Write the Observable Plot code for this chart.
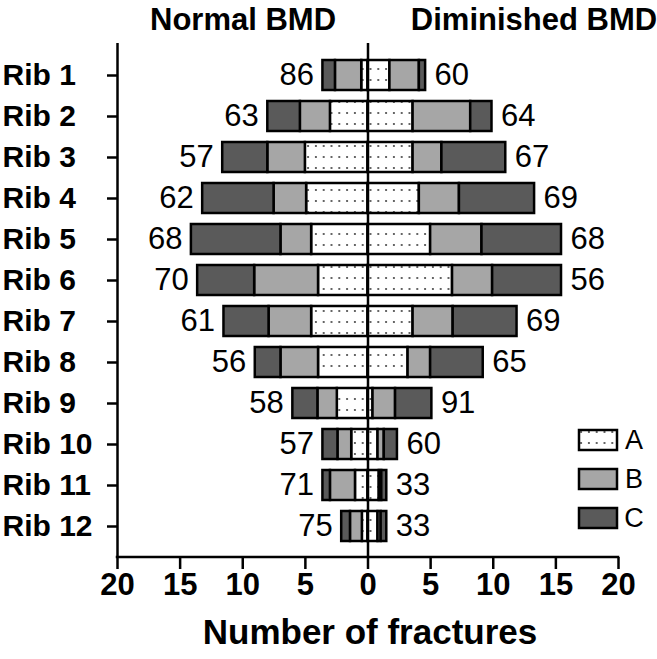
<!DOCTYPE html>
<html><head><meta charset="utf-8">
<script src="https://cdn.jsdelivr.net/npm/d3@7"></script>
<script src="https://cdn.jsdelivr.net/npm/@observablehq/plot@0.6"></script>
<style>body{margin:0;background:#fff} svg{display:block}</style>
</head><body>
<script>
const ribs = ["Rib 1","Rib 2","Rib 3","Rib 4","Rib 5","Rib 6","Rib 7","Rib 8","Rib 9","Rib 10","Rib 11","Rib 12"];
const cats = ["A","B","C"];
const normalA = [0.5, 3.0, 5.0, 4.9, 4.5, 3.95, 4.5, 3.95, 2.45, 1.3, 1.0, 0.45];
const normalB = [2.1, 2.4, 3.0, 2.6, 2.45, 5.1, 3.4, 3.0, 1.55, 1.1, 2.0, 0.95];
const normalC = [1.0, 2.6, 3.6, 5.7, 7.15, 4.55, 3.6, 2.05, 2.0, 1.2, 0.6, 0.7];
const dimA = [1.75, 3.6, 3.6, 4.1, 5.0, 6.75, 3.6, 3.2, 0.4, 0.8, 0.9, 0.8];
const dimB = [2.35, 4.6, 2.3, 3.2, 4.1, 3.2, 3.2, 1.8, 1.8, 0.5, 0.2, 0.25];
const dimC = [0.5, 1.7, 5.1, 6.0, 6.35, 5.5, 5.1, 4.2, 2.9, 1.05, 0.4, 0.45];
const normalPct = [86, 63, 57, 62, 68, 70, 61, 56, 58, 57, 71, 75];
const dimPct = [60, 64, 67, 69, 68, 56, 69, 65, 91, 60, 33, 33];
const xTicks = [-20, -15, -10, -5, 0, 5, 10, 15, 20];
const sideTitles = ["Normal BMD", "Diminished BMD"];
const axisTitle = "Number of fractures";

const font = "'Liberation Sans', Arial, Helvetica, sans-serif";
const colorRange = ["url(#dotpat)", "#a6a6a6", "#5a5a5a"];

const rows = [];
const series = {A: [normalA, dimA], B: [normalB, dimB], C: [normalC, dimC]};
ribs.forEach((rib, i) => {
  cats.forEach(cat => {
    rows.push({rib, cat, value: -series[cat][0][i]});
    rows.push({rib, cat, value: series[cat][1][i]});
  });
});
const labels = ribs.map((rib, i) => ({
  rib,
  nTotal: -(normalA[i] + normalB[i] + normalC[i]),
  dTotal: dimA[i] + dimB[i] + dimC[i],
  nPct: normalPct[i],
  dPct: dimPct[i]
}));

const plot = Plot.plot({
  width: 657, height: 659,
  marginLeft: 117, marginRight: 39, marginTop: 43, marginBottom: 102,
  style: {fontFamily: font, color: "black", background: "white", overflow: "visible"},
  x: {domain: [-20, 20]},
  y: {domain: ribs, padding: 0.28},
  color: {domain: cats, range: colorRange},
  marks: [
    Plot.barX(rows, {y: "rib", x: "value", fill: "cat", z: "cat", stroke: "black", strokeWidth: 2.5}),
    Plot.ruleX([0], {stroke: "black", strokeWidth: 2.5}),
    Plot.ruleX([-20], {stroke: "black", strokeWidth: 2.5}),
    Plot.axisY({tickSize: 10, tickFormat: () => "", strokeWidth: 2.5, label: null}),
    Plot.axisX({ticks: xTicks, tickSize: 12, tickPadding: 3, tickFormat: d => Math.abs(d),
      fontSize: 31, fontWeight: "bold", strokeWidth: 2.5, label: null}),
    Plot.text(ribs, {y: d => d, text: d => d, frameAnchor: "left", textAnchor: "start", dx: -115,
      fontSize: 30, fontWeight: "bold"}),
    Plot.text(labels, {y: "rib", x: "nTotal", text: "nPct", textAnchor: "end", dx: -9, fontSize: 31}),
    Plot.text(labels, {y: "rib", x: "dTotal", text: "dPct", textAnchor: "start", dx: 9, fontSize: 31}),
    Plot.text([sideTitles[0]], {frameAnchor: "top", lineAnchor: "middle", dx: -125, dy: -23, fontSize: 31, fontWeight: "bold"}),
    Plot.text([sideTitles[1]], {frameAnchor: "top", lineAnchor: "middle", dx: 166, dy: -23, fontSize: 31, fontWeight: "bold"}),
    Plot.text([axisTitle], {frameAnchor: "bottom", lineAnchor: "middle", dx: 2, dy: 75, fontSize: 35, fontWeight: "bold"})
  ]
});
document.body.appendChild(plot);

const svg = d3.select(plot);
const defs = svg.insert("defs", ":first-child");
const pat = defs.append("pattern").attr("id", "dotpat").attr("patternUnits", "userSpaceOnUse")
  .attr("width", 7.8).attr("height", 11);
pat.append("rect").attr("width", 7.8).attr("height", 11).attr("fill", "white");
pat.append("circle").attr("cx", 3.9).attr("cy", 3).attr("r", 1).attr("fill", "#333");

// x axis baseline
const xs = plot.scale("x").range, ys = plot.scale("y").range;
svg.append("line").attr("x1", xs[0] - 1.25).attr("x2", xs[1] + 1.25).attr("y1", ys[1]).attr("y2", ys[1])
  .attr("stroke", "black").attr("stroke-width", 2.5);

// legend
const leg = svg.append("g").attr("font-family", font);
cats.forEach((c, i) => {
  const cy = 440 + i * 39;
  leg.append("rect").attr("x", 579).attr("y", cy - 10).attr("width", 38).attr("height", 20)
    .attr("fill", colorRange[i]).attr("stroke", "black").attr("stroke-width", 2.5);
  leg.append("text").attr("x", 634).attr("y", cy).attr("dy", "0.35em").attr("font-size", 27).text(c);
});
</script>
</body></html>
